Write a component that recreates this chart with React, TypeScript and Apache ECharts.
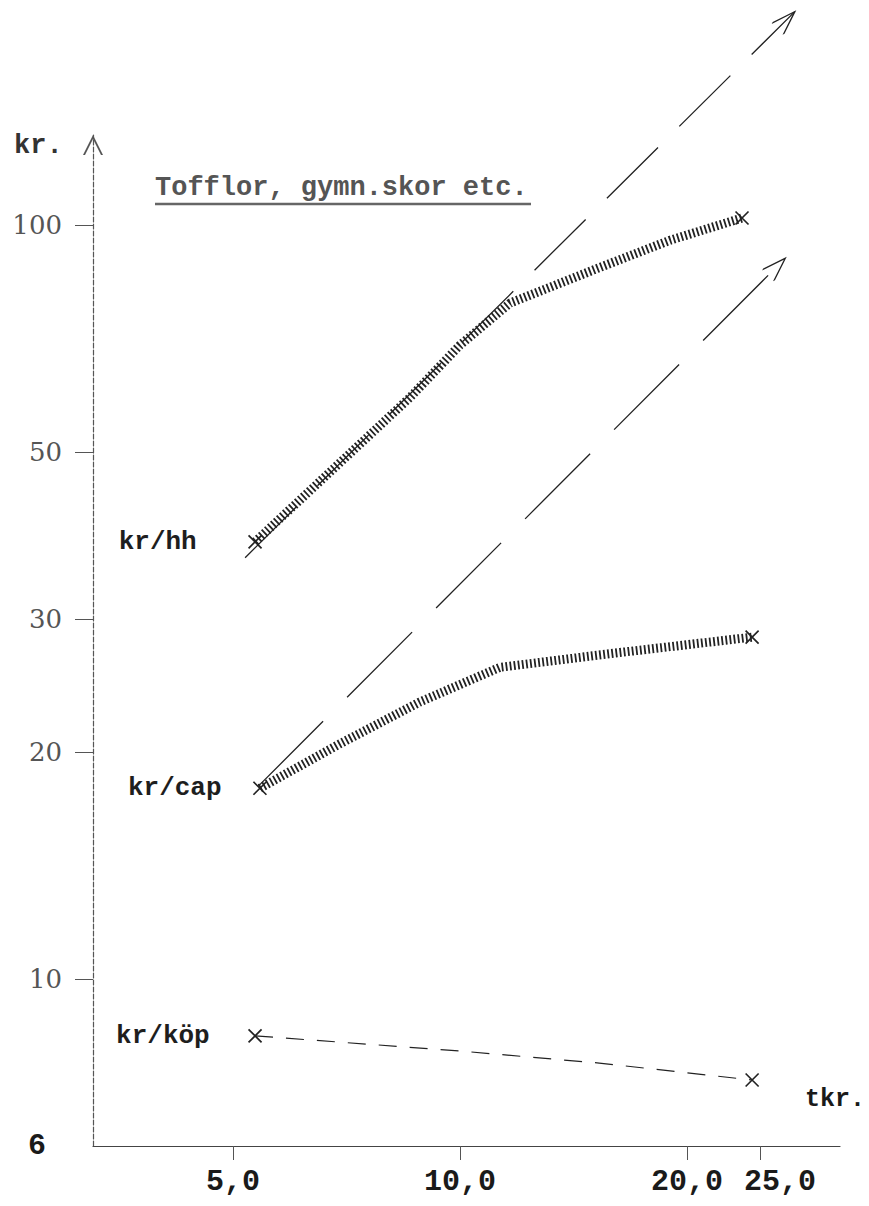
import React, { useEffect, useRef } from "react";
import * as echarts from "echarts";

// ---- data (log–log axes) ----
const xTickValues = [5, 10, 20, 25];
const yLabelValues = [6, 10, 20, 30, 50, 100];
const yTickValues = [10, 20, 30, 50, 100];

const hhX = [5.35, 8.59, 10.0, 11.65, 15.34, 19.0, 23.66];
const hhY = [38.0, 59.1, 69.3, 78.8, 87.9, 95.5, 102.2];

const capX = [5.43, 6.93, 8.85, 11.3, 16.3, 24.4];
const capY = [17.9, 20.5, 23.3, 25.9, 27.1, 28.4];

const kopX = [5.35, 10.0, 15.3, 24.4];
const kopY = [8.4, 8.02, 7.73, 7.34];

const trendHhX = [5.19, 27.8];
const trendHhY = [36.2, 192];
const trendCapX = [5.4, 27.0];
const trendCapY = [18.0, 90.4];

const X_MIN = 3.262;
const X_MAX = 31.91;
const Y_MIN = 6;
const Y_MAX = 131.7;

const mono = "'Liberation Mono', 'DejaVu Sans Mono', monospace";
const serif = "'DejaVu Serif', 'Liberation Serif', serif";
const ink = "#222";

const xMark = "path://M0,0L10,10M10,0L0,10";
const arrowHead = "path://M8,0M0,48L8,24L16,48";

function markedPoints(xs: number[], ys: number[], name: string, dist: number) {
  return xs.map((x, i) => {
    const end = i === 0 || i === xs.length - 1;
    const item: any = {
      value: [x, ys[i]],
      symbol: end ? xMark : "none",
      symbolSize: 13,
      itemStyle: { color: "rgba(0,0,0,0)", borderColor: ink, borderWidth: 1.7 },
    };
    if (i === 0) {
      item.label = {
        show: true,
        position: "left",
        distance: dist,
        formatter: name,
        fontFamily: mono,
        fontWeight: "bold",
        fontSize: 26,
        color: "#1e1e1e",
      };
    }
    return item;
  });
}

function trendPoints(xs: number[], ys: number[]) {
  return xs.map((x, i) => ({
    value: [x, ys[i]],
    symbol: i === xs.length - 1 ? arrowHead : "none",
    symbolSize: [16, 48],
    symbolRotate: -45,
    itemStyle: { color: "rgba(0,0,0,0)", borderColor: ink, borderWidth: 1.7 },
  }));
}

const option: any = {
  animation: false,
  backgroundColor: "#ffffff",
  grid: { left: 93, top: 135, right: 29, bottom: 60, containLabel: false, outerBoundsMode: "none" },
  xAxis: {
    type: "log",
    logBase: 10,
    min: X_MIN,
    max: X_MAX,
    axisLine: { show: true, lineStyle: { color: "#444", width: 1.2 } },
    axisTick: { show: true, length: 14, customValues: xTickValues, lineStyle: { color: "#555", width: 1 } },
    axisLabel: {
      customValues: xTickValues,
      margin: 21,
      fontFamily: mono,
      fontSize: 30,
      fontWeight: "bold",
      color: "#1a1a1a",
      formatter: (v: number) => {
        const s = v.toFixed(1).replace(".", ",");
        return Math.round(v) === 25 ? `{r|${s}}` : s;
      },
      rich: {
        r: { padding: [0, 0, 0, 40], fontFamily: mono, fontSize: 30, fontWeight: "bold", color: "#1a1a1a" },
      },
    },
    splitLine: { show: false },
    minorTick: { show: false },
    minorSplitLine: { show: false },
  },
  yAxis: {
    type: "log",
    logBase: 10,
    min: Y_MIN,
    max: Y_MAX,
    axisLine: {
      show: true,
      symbol: ["none", "path://M0,20L10,0L20,20L18,20L10,4L2,20Z"],
      symbolSize: [20, 20],
      symbolOffset: [0, -10],
      lineStyle: { color: "#555", width: 1.2, type: [5, 2] },
    },
    axisTick: { show: true, length: 18, customValues: yTickValues, lineStyle: { color: "#555", width: 1 } },
    axisLabel: {
      customValues: yLabelValues,
      margin: 31,
      fontFamily: serif,
      fontSize: 26,
      color: "#555",
      formatter: (v: number) => {
        const n = Math.round(v);
        return n === 6 ? "{s|6}" : String(n);
      },
      rich: {
        s: { fontFamily: mono, fontWeight: "bold", fontSize: 30, color: "#1a1a1a", padding: [0, 16, 0, 0] },
      },
    },
    splitLine: { show: false },
    minorTick: { show: false },
    minorSplitLine: { show: false },
  },
  graphic: [
    {
      type: "text",
      left: 155,
      top: 174,
      style: { text: "Tofflor, gymn.skor etc.", fontFamily: mono, fontWeight: "bold", fontSize: 27, fill: "#555" },
    },
    {
      type: "line",
      shape: { x1: 155, y1: 204, x2: 531, y2: 204 },
      style: { stroke: "#666", lineWidth: 2.5 },
    },
    {
      type: "text",
      left: 14,
      top: 132,
      style: { text: "kr.", fontFamily: mono, fontWeight: "bold", fontSize: 27, fill: "#333" },
    },
    {
      type: "text",
      left: 805,
      top: 1087,
      style: { text: "tkr.", fontFamily: mono, fontWeight: "bold", fontSize: 25, fill: "#1a1a1a" },
    },
  ],
  series: [
    {
      name: "trend hh",
      type: "line",
      clip: false,
      silent: true,
      data: trendPoints(trendHhX, trendHhY),
      lineStyle: { color: ink, width: 1.3, type: [72, 30] },
    },
    {
      name: "trend cap",
      type: "line",
      clip: false,
      silent: true,
      data: trendPoints(trendCapX, trendCapY),
      lineStyle: { color: ink, width: 1.3, type: [92, 34] },
    },
    {
      name: "kr/hh",
      type: "line",
      clip: false,
      data: markedPoints(hhX, hhY, "kr/hh", 51),
      lineStyle: { color: "#222", width: 9, type: [1.8, 2.3] },
    },
    {
      name: "kr/cap",
      type: "line",
      clip: false,
      data: markedPoints(capX, capY, "kr/cap", 31),
      lineStyle: { color: "#222", width: 9, type: [1.8, 2.3] },
    },
    {
      name: "kr/köp",
      type: "line",
      clip: false,
      data: markedPoints(kopX, kopY, "kr/köp", 38),
      lineStyle: { color: ink, width: 1.2, type: [18, 13] },
    },
  ],
};

export default function App() {
  const ref = useRef<HTMLDivElement>(null);
  useEffect(() => {
    if (!ref.current) return;
    const chart = echarts.init(ref.current, null, { renderer: "svg" });
    chart.setOption(option);
    return () => chart.dispose();
  }, []);
  return (
    <div
      ref={ref}
      style={{ position: "absolute", left: 0, top: 0, width: 869, height: 1206, background: "#fff" }}
    />
  );
}
